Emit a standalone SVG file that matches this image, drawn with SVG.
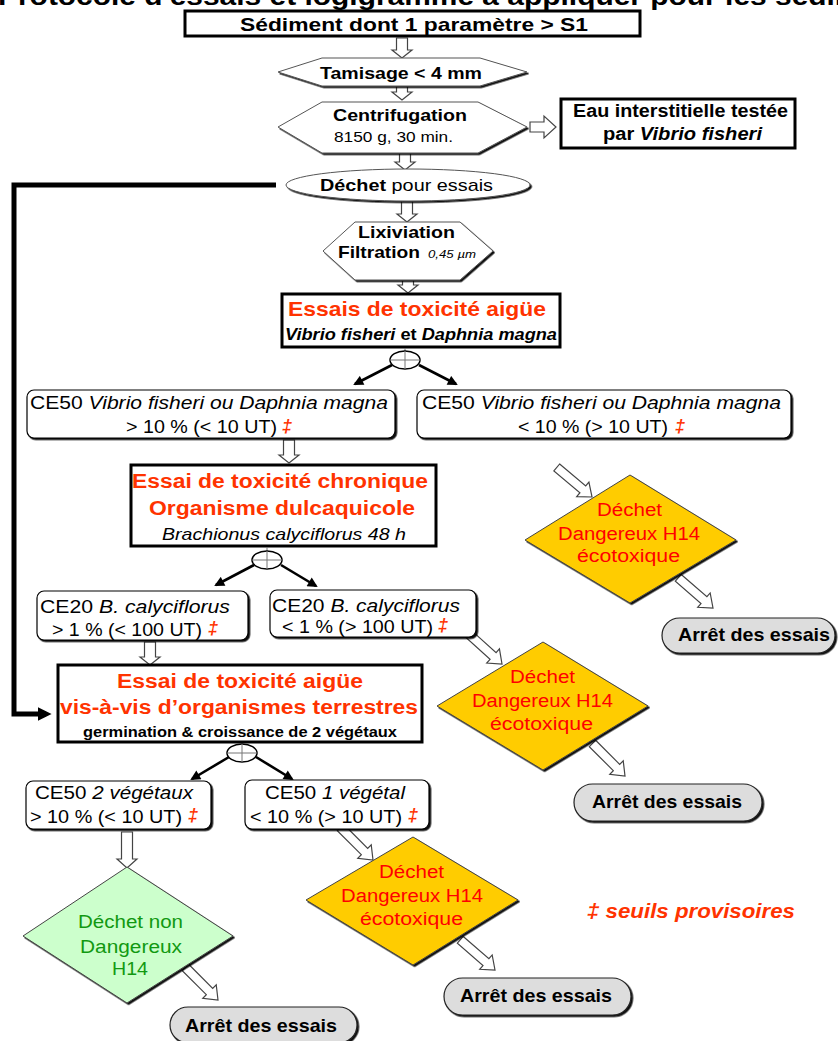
<svg xmlns="http://www.w3.org/2000/svg" xmlns:xlink="http://www.w3.org/1999/xlink" width="838" height="1041" viewBox="0 0 838 1041">
<style>
text{font-family:"Liberation Sans",Arial,sans-serif;fill:#000}
.b{font-weight:bold}
.i{font-style:italic}
.r{fill:#FF3300}
.dr{fill:#FF0000}
.g{fill:#119911}
.box{fill:#fff;stroke:#000;stroke-width:3}
.rb{fill:#fff;stroke:#000;stroke-width:1.2;filter:url(#ds)}
.hex{fill:#fff;stroke:#555;stroke-width:1;filter:url(#ds)}
.dia{stroke:#444;stroke-width:1;filter:url(#ds)}
.pill{fill:#DDDDDD;stroke:#222;stroke-width:1.2;filter:url(#ds)}
.ha{fill:#fff;stroke:#444;stroke-width:1.2}
.sp{fill:#fff;stroke:#000;stroke-width:1.5}
.cr{stroke:#777;stroke-width:1;fill:none}
.ar{stroke:#000;stroke-width:2.6;fill:none;marker-end:url(#ah)}
</style>
<defs>
<filter id="ds" x="-5%" y="-5%" width="115%" height="120%">
<feDropShadow dx="1.6" dy="1.6" stdDeviation="0.2" flood-color="#000" flood-opacity="0.95"/>
</filter>
<marker id="ah" viewBox="0 0 10 10" refX="8" refY="5" markerWidth="11" markerHeight="10" markerUnits="userSpaceOnUse" orient="auto">
<path d="M0,0 L10,5 L0,10 Z" fill="#000"/>
</marker>
<marker id="ahb" viewBox="0 0 10 10" refX="6" refY="5" markerWidth="14" markerHeight="16" markerUnits="userSpaceOnUse" orient="auto">
<path d="M0,0 L10,5 L0,10 Z" fill="#000"/>
</marker>
<path id="darr" d="M-46,-4.5 H-12 V-9.5 L0,0 L-12,9.5 V4.5 H-46 Z"/>
</defs>

<text id="title" class="b" x="-2" y="5" font-size="26" textLength="925" lengthAdjust="spacingAndGlyphs">Protocole d'essais et logigramme à appliquer pour les sédiments</text>

<g id="connectors">
<path class="ha" d="M396.5,38 V50 H392 L402,58 L412,50 H407.5 V38 Z"/>
<path class="ha" d="M396.5,86 V92 H392 L402,100 L412,92 H407.5 V86 Z"/>
<path class="ha" d="M399.5,153 V162 H395 L405,170 L415,162 H410.5 V153 Z"/>
<path class="ha" d="M401.5,201 V214 H397 L407,222 L417,214 H412.5 V201 Z"/>
<path class="ha" d="M402.5,280 V285 H398 L408,293 L418,285 H413.5 V280 Z"/>
<path class="ha" d="M283.5,440 V455 H279 L289,463 L299,455 H294.5 V440 Z"/>
<path class="ha" d="M144.5,642 V657 H140 L150,665 L160,657 H155.5 V642 Z"/>
<path class="ha" d="M121.5,832 V859 H117 L127,868 L137,859 H132.5 V832 Z"/>
<path class="ha" d="M530,122 H544 V116 L556,127 L544,138 V132 H530 Z"/>
<use xlink:href="#darr" href="#darr" class="ha" transform="translate(592,497) rotate(40)"/>
<use xlink:href="#darr" href="#darr" class="ha" transform="translate(713,608) rotate(41)"/>
<use xlink:href="#darr" href="#darr" class="ha" transform="translate(502,664) rotate(42)"/>
<use xlink:href="#darr" href="#darr" class="ha" transform="translate(625,776) rotate(45)"/>
<use xlink:href="#darr" href="#darr" class="ha" transform="translate(373,860) rotate(45)"/>
<use xlink:href="#darr" href="#darr" class="ha" transform="translate(495,970) rotate(41)"/>
<use xlink:href="#darr" href="#darr" class="ha" transform="translate(218,1000) rotate(45)"/>
<path d="M276,185 H14 V714 H46" fill="none" stroke="#000" stroke-width="5" marker-end="url(#ahb)"/>
<line class="ar" x1="392" y1="365" x2="355" y2="384"/>
<line class="ar" x1="419" y1="365" x2="456" y2="384"/>
<line class="ar" x1="254" y1="565" x2="216" y2="585"/>
<line class="ar" x1="281" y1="565" x2="316" y2="586"/>
<line class="ar" x1="229" y1="757" x2="192" y2="779"/>
<line class="ar" x1="256" y1="757" x2="292" y2="779"/>
</g>

<g id="n-sediment">
<rect class="box" x="185" y="11" width="455" height="25"/>
<text class="b" x="240" y="31" font-size="19" textLength="348" lengthAdjust="spacingAndGlyphs">Sédiment dont 1 paramètre &gt; S1</text>
</g>

<g id="n-tamisage">
<polygon class="hex" points="278,72 322,58 480,58 527,72 480,86 322,86"/>
<text class="b" x="320" y="79" font-size="17" textLength="162" lengthAdjust="spacingAndGlyphs">Tamisage &lt; 4 mm</text>
</g>

<g id="n-centrifugation">
<polygon class="hex" points="278,127 322,102 478,102 527,127 478,153 322,153"/>
<text class="b" x="333" y="121" font-size="17" textLength="134" lengthAdjust="spacingAndGlyphs">Centrifugation</text>
<text x="334" y="142" font-size="14" textLength="119" lengthAdjust="spacingAndGlyphs">8150 g, 30 min.</text>
</g>

<g id="n-eau">
<rect class="box" x="561" y="99" width="234" height="49"/>
<text class="b" x="573" y="117" font-size="18" textLength="215" lengthAdjust="spacingAndGlyphs">Eau interstitielle testée</text>
<text class="b" x="603" y="140" font-size="18" textLength="159" lengthAdjust="spacingAndGlyphs">par <tspan class="i">Vibrio fisheri</tspan></text>
</g>

<g id="n-dechet-essais">
<ellipse class="hex" cx="408" cy="185" rx="122" ry="16"/>
<text x="320" y="191" font-size="17" textLength="173" lengthAdjust="spacingAndGlyphs"><tspan class="b">Déchet</tspan> pour essais</text>
</g>

<g id="n-lixiviation">
<polygon class="hex" points="323,251 355,222 460,222 493,251 460,280 355,280"/>
<text class="b" x="358" y="238" font-size="17" textLength="97" lengthAdjust="spacingAndGlyphs">Lixiviation</text>
<text class="b" x="338" y="258" font-size="17" textLength="82" lengthAdjust="spacingAndGlyphs">Filtration</text>
<text class="i" x="428" y="258" font-size="11" textLength="48" lengthAdjust="spacingAndGlyphs">0,45 µm</text>
</g>

<g id="n-essais-aigue">
<rect class="box" x="282" y="294" width="278" height="53"/>
<text class="b r" x="288" y="316" font-size="20.5" textLength="258" lengthAdjust="spacingAndGlyphs">Essais de toxicité aigüe</text>
<text class="b" x="285" y="340" font-size="17" textLength="272" lengthAdjust="spacingAndGlyphs"><tspan class="i">Vibrio fisheri</tspan> et <tspan class="i">Daphnia magna</tspan></text>
</g>

<g id="n-split1">
<line class="cr" x1="405" y1="348" x2="405" y2="369"/>
<ellipse class="sp" cx="405" cy="360" rx="15" ry="9"/>
<line class="cr" x1="405" y1="351" x2="405" y2="369"/>
<line class="cr" x1="390" y1="360" x2="420" y2="360"/>
</g>

<g id="n-ce50-sup">
<rect class="rb" x="27" y="390" width="368" height="48" rx="7"/>
<text x="30" y="409" font-size="18" textLength="358" lengthAdjust="spacingAndGlyphs">CE50 <tspan class="i">Vibrio fisheri ou Daphnia magna</tspan></text>
<text x="126" y="433" font-size="18" textLength="151" lengthAdjust="spacingAndGlyphs">&gt; 10 % (&lt; 10 UT)</text>
<text class="r b i" x="282" y="432" font-size="18">‡</text>
</g>

<g id="n-ce50-inf">
<rect class="rb" x="417" y="390" width="374" height="48" rx="7"/>
<text x="422" y="409" font-size="18" textLength="359" lengthAdjust="spacingAndGlyphs">CE50 <tspan class="i">Vibrio fisheri ou Daphnia magna</tspan></text>
<text x="518" y="433" font-size="18" textLength="150" lengthAdjust="spacingAndGlyphs">&lt; 10 % (&gt; 10 UT)</text>
<text class="r b i" x="675" y="432" font-size="18">‡</text>
</g>

<g id="n-chronique">
<rect class="box" x="131" y="465" width="305" height="81"/>
<text class="b r" x="132" y="488" font-size="20" textLength="296" lengthAdjust="spacingAndGlyphs">Essai de toxicité chronique</text>
<text class="b r" x="149" y="515" font-size="20" textLength="266" lengthAdjust="spacingAndGlyphs">Organisme dulcaquicole</text>
<text class="i" x="162" y="540" font-size="17" textLength="244" lengthAdjust="spacingAndGlyphs">Brachionus calyciflorus 48 h</text>
</g>

<g id="n-split2">
<line class="cr" x1="267" y1="547" x2="267" y2="569"/>
<ellipse class="sp" cx="267" cy="560" rx="15" ry="9"/>
<line class="cr" x1="267" y1="551" x2="267" y2="569"/>
<line class="cr" x1="252" y1="560" x2="282" y2="560"/>
</g>

<g id="n-ce20-sup">
<rect class="rb" x="37" y="591" width="211" height="49" rx="7"/>
<text x="40" y="613" font-size="18" textLength="190" lengthAdjust="spacingAndGlyphs">CE20 <tspan class="i">B. calyciflorus</tspan></text>
<text x="52" y="636" font-size="18" textLength="150" lengthAdjust="spacingAndGlyphs">&gt; 1 % (&lt; 100 UT)</text>
<text class="r b i" x="208" y="634" font-size="18">‡</text>
</g>

<g id="n-ce20-inf">
<rect class="rb" x="270" y="590" width="206" height="47" rx="7"/>
<text x="272" y="612" font-size="18" textLength="188" lengthAdjust="spacingAndGlyphs">CE20 <tspan class="i">B. calyciflorus</tspan></text>
<text x="282" y="633" font-size="18" textLength="151" lengthAdjust="spacingAndGlyphs">&lt; 1 % (&gt; 100 UT)</text>
<text class="r b i" x="438" y="631" font-size="18">‡</text>
</g>

<g id="n-terrestres">
<rect class="box" x="58" y="665" width="364" height="77"/>
<text class="b r" x="117" y="688" font-size="20" textLength="246" lengthAdjust="spacingAndGlyphs">Essai de toxicité aigüe</text>
<text class="b r" x="60" y="714" font-size="20" textLength="358" lengthAdjust="spacingAndGlyphs">vis-à-vis d’organismes terrestres</text>
<text class="b" x="83" y="737" font-size="14" textLength="314" lengthAdjust="spacingAndGlyphs">germination &amp; croissance de 2 végétaux</text>
</g>

<g id="n-split3">
<line class="cr" x1="242" y1="743" x2="242" y2="762"/>
<ellipse class="sp" cx="242" cy="753" rx="15" ry="9"/>
<line class="cr" x1="242" y1="744" x2="242" y2="762"/>
<line class="cr" x1="227" y1="753" x2="257" y2="753"/>
</g>

<g id="n-ce50-2veg">
<rect class="rb" x="26" y="781" width="185" height="48" rx="7"/>
<text x="35" y="799" font-size="18" textLength="158" lengthAdjust="spacingAndGlyphs">CE50 <tspan class="i">2 végétaux</tspan></text>
<text x="30" y="823" font-size="18" textLength="152" lengthAdjust="spacingAndGlyphs">&gt; 10 % (&lt; 10 UT)</text>
<text class="r b i" x="188" y="821" font-size="18">‡</text>
</g>

<g id="n-ce50-1veg">
<rect class="rb" x="245" y="780" width="184" height="49" rx="7"/>
<text x="265" y="799" font-size="18" textLength="140" lengthAdjust="spacingAndGlyphs">CE50 <tspan class="i">1 végétal</tspan></text>
<text x="250" y="823" font-size="18" textLength="152" lengthAdjust="spacingAndGlyphs">&lt; 10 % (&gt; 10 UT)</text>
<text class="r b i" x="408" y="821" font-size="18">‡</text>
</g>

<g id="n-non-dangereux">
<polygon class="dia" fill="#CCFFCC" points="23,936 127,867 233,936 127,1003"/>
<text class="g" x="78" y="928" font-size="18" textLength="105" lengthAdjust="spacingAndGlyphs">Déchet non</text>
<text class="g" x="80" y="953" font-size="18" textLength="102" lengthAdjust="spacingAndGlyphs">Dangereux</text>
<text class="g" x="112" y="975" font-size="18" textLength="36" lengthAdjust="spacingAndGlyphs">H14</text>
</g>

<g id="n-dangereux1">
<polygon class="dia" fill="#FFCC00" points="525,540 630,475 736,540 630,603"/>
<text class="dr" x="597" y="516" font-size="18" textLength="65" lengthAdjust="spacingAndGlyphs">Déchet</text>
<text class="dr" x="558" y="540" font-size="18" textLength="142" lengthAdjust="spacingAndGlyphs">Dangereux H14</text>
<text class="dr" x="577" y="562" font-size="18" textLength="103" lengthAdjust="spacingAndGlyphs">écotoxique</text>
</g>

<g id="n-dangereux2">
<polygon class="dia" fill="#FFCC00" points="437,706 543,642 648,706 543,770"/>
<text class="dr" x="510" y="683" font-size="18" textLength="65" lengthAdjust="spacingAndGlyphs">Déchet</text>
<text class="dr" x="472" y="707" font-size="18" textLength="141" lengthAdjust="spacingAndGlyphs">Dangereux H14</text>
<text class="dr" x="490" y="730" font-size="18" textLength="103" lengthAdjust="spacingAndGlyphs">écotoxique</text>
</g>

<g id="n-dangereux3">
<polygon class="dia" fill="#FFCC00" points="306,900 413,837 518,900 413,965"/>
<text class="dr" x="379" y="878" font-size="18" textLength="65" lengthAdjust="spacingAndGlyphs">Déchet</text>
<text class="dr" x="341" y="902" font-size="18" textLength="142" lengthAdjust="spacingAndGlyphs">Dangereux H14</text>
<text class="dr" x="360" y="925" font-size="18" textLength="103" lengthAdjust="spacingAndGlyphs">écotoxique</text>
</g>

<g id="n-arret1">
<rect class="pill" x="662" y="618" width="173" height="35" rx="17.5"/>
<text class="b" x="678" y="641" font-size="18.5" textLength="152" lengthAdjust="spacingAndGlyphs">Arrêt des essais</text>
</g>

<g id="n-arret2">
<rect class="pill" x="574" y="784" width="188" height="37" rx="18.5"/>
<text class="b" x="592" y="808" font-size="18.5" textLength="150" lengthAdjust="spacingAndGlyphs">Arrêt des essais</text>
</g>

<g id="n-arret3">
<rect class="pill" x="444" y="978" width="187" height="37" rx="18.5"/>
<text class="b" x="460" y="1002" font-size="18.5" textLength="152" lengthAdjust="spacingAndGlyphs">Arrêt des essais</text>
</g>

<g id="n-arret4">
<rect class="pill" x="170" y="1007" width="187" height="36" rx="18"/>
<text class="b" x="185" y="1032" font-size="18.5" textLength="152" lengthAdjust="spacingAndGlyphs">Arrêt des essais</text>
</g>

<g id="legend">
<text class="b i r" x="587" y="918" font-size="19.5" textLength="208" lengthAdjust="spacingAndGlyphs">‡ seuils provisoires</text>
</g>
</svg>
